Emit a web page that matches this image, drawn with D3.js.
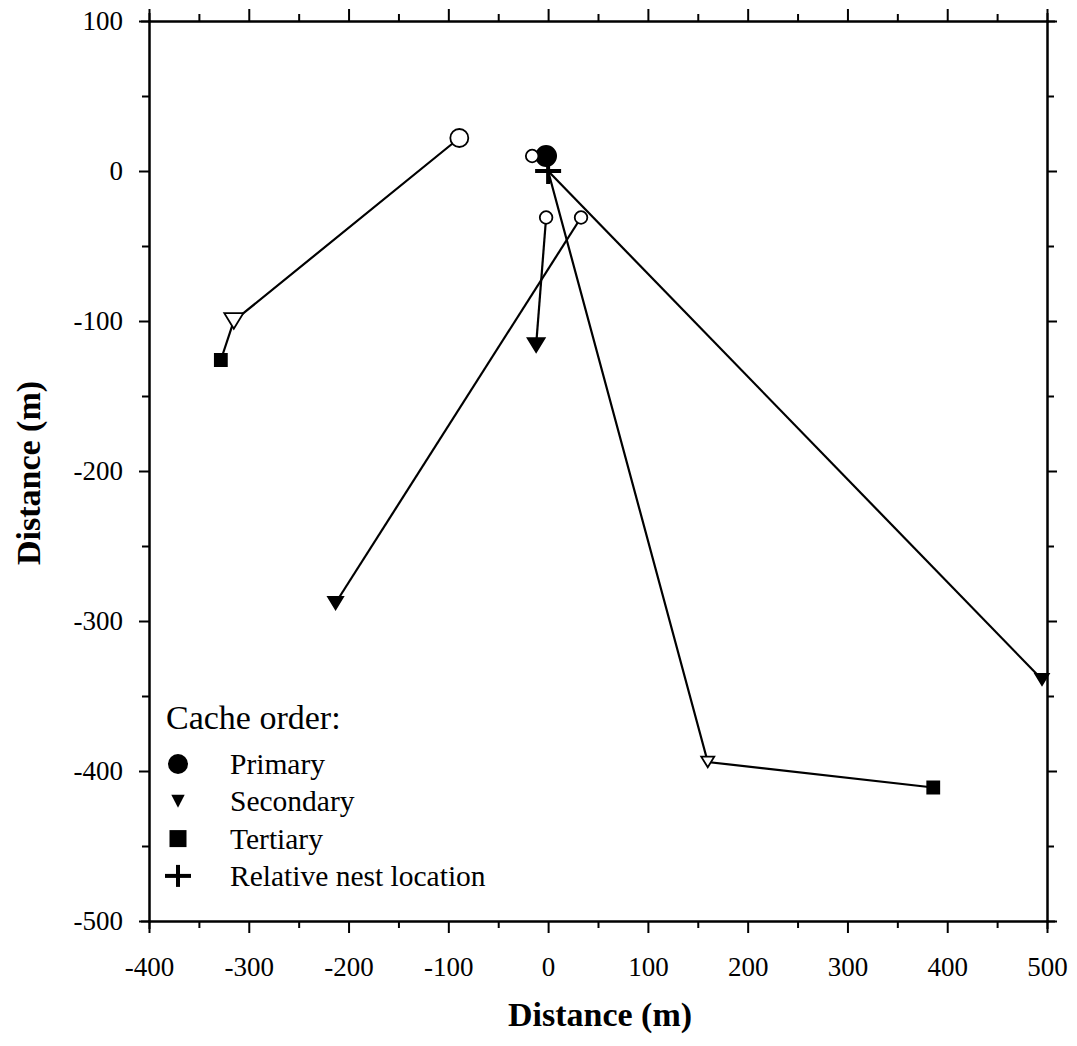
<!DOCTYPE html>
<html>
<head>
<meta charset="utf-8">
<script src="https://cdn.jsdelivr.net/npm/d3@7"></script>
<style>
  body { margin: 0; background: #fff; }
  svg { display: block; }
  text { font-family: "Liberation Serif", "Times New Roman", serif; fill: #000; }
</style>
</head>
<body>
<div id="chart"></div>
<script>
// Cache locations (m, relative to the nest)
const cacheX = [-89, -315, -328, -2, -16, -2, -12, 33, -213, 160, 386, 495];
const cacheY = [22, -100, -126, 10, 10, -31, -116, -31, -288, -394, -411, -339];
const cacheOrder = ['Primary', 'Secondary', 'Tertiary', 'Primary', 'Primary', 'Primary',
  'Secondary', 'Primary', 'Secondary', 'Secondary', 'Tertiary', 'Secondary'];
const cacheFilled = [false, false, true, true, false, false, true, false, true, false, true, true];
const nest = { x: 0, y: 0 };

// Caching sequences, by cache index ('nest' = start at the nest)
const routes = [
  [0, 1, 2],
  [5, 6],
  [7, 8],
  ['nest', 9, 10],
  ['nest', 11],
];

// Axis ticks
const xTicks = [-400, -300, -200, -100, 0, 100, 200, 300, 400, 500];
const yTicks = [-500, -400, -300, -200, -100, 0, 100];
const xMinor = [-350, -250, -150, -50, 50, 150, 250, 350, 450];
const yMinor = [-450, -350, -250, -150, -50, 50];

const legendItems = ['Primary', 'Secondary', 'Tertiary', 'Relative nest location'];

// Marker size (px) per cache, as drawn in the original
const markerSize = [9, 19, 12, 10, 6.3, 6.3, 17, 6.3, 15, 13, 12, 13.5];

// Set graph sizes
const margin = { top: 21, right: 30, bottom: 125, left: 149 };
const width = 898;
const height = 900;
const serif = '"Liberation Serif", "Times New Roman", serif';

const svg = d3.select('#chart')
  .append('svg')
  .attr('width', 1077)
  .attr('height', 1046);

const g = svg.append('g')
  .attr('transform', `translate(${margin.left},${margin.top})`);

const x = d3.scaleLinear().domain([-400, 500]).range([0, width]);
const y = d3.scaleLinear().domain([-500, 100]).range([height, 0]);

// plain hyphen for negatives, like the original
const fmt = (d) => String(d);

// symbol paths
function triangle(w) {
  const h = w * 0.82;
  return `M${-w / 2},${-h / 2}L${w / 2},${-h / 2}L0,${h / 2}Z`;
}
function square(s) {
  return `M${-s / 2},${-s / 2}h${s}v${s}h${-s}Z`;
}

function styleAxis(sel) {
  sel.attr('font-family', serif).attr('font-size', 27);
  sel.select('.domain').attr('stroke-width', 2);
  sel.selectAll('.tick line').attr('stroke-width', 2);
  sel.selectAll('.tick text')
    .style('font-size', '27px')
    .style('font-family', serif);
}

// axes, major ticks outward on every side
g.append('g')
  .attr('transform', `translate(0,${height})`)
  .call(d3.axisBottom(x).tickValues(xTicks).tickSize(12).tickSizeOuter(0).tickPadding(24).tickFormat(fmt))
  .call(styleAxis);
g.append('g')
  .call(d3.axisTop(x).tickValues(xTicks).tickSize(12).tickSizeOuter(0).tickFormat(''))
  .call(styleAxis);
g.append('g')
  .call(d3.axisLeft(y).tickValues(yTicks).tickSize(10).tickSizeOuter(0).tickPadding(16).tickFormat(fmt))
  .call(styleAxis);
g.append('g')
  .attr('transform', `translate(${width},0)`)
  .call(d3.axisRight(y).tickValues(yTicks).tickSize(10).tickSizeOuter(0).tickFormat(''))
  .call(styleAxis);

// minor ticks
g.append('g')
  .attr('transform', `translate(0,${height})`)
  .call(d3.axisBottom(x).tickValues(xMinor).tickSize(7).tickFormat(''))
  .call(styleAxis);
g.append('g')
  .call(d3.axisTop(x).tickValues(xMinor).tickSize(7).tickFormat(''))
  .call(styleAxis);
g.append('g')
  .call(d3.axisLeft(y).tickValues(yMinor).tickSize(7).tickFormat(''))
  .call(styleAxis);
g.append('g')
  .attr('transform', `translate(${width},0)`)
  .call(d3.axisRight(y).tickValues(yMinor).tickSize(7).tickFormat(''))
  .call(styleAxis);
g.selectAll('.domain').attr('stroke-linecap', 'square');

// axis titles
svg.append('text')
  .attr('x', margin.left + width / 2 + 2)
  .attr('y', 1026)
  .attr('text-anchor', 'middle')
  .style('font-size', '34px')
  .style('font-weight', 'bold')
  .text('Distance (m)');
svg.append('text')
  .attr('transform', `translate(40,${margin.top + height / 2 + 2}) rotate(-90)`)
  .attr('text-anchor', 'middle')
  .style('font-size', '34px')
  .style('font-weight', 'bold')
  .text('Distance (m)');

// route lines
const pt = (k) => (k === 'nest' ? [x(nest.x), y(nest.y)] : [x(cacheX[k]), y(cacheY[k])]);
g.selectAll('path.route')
  .data(routes)
  .join('path')
  .attr('class', 'route')
  .attr('fill', 'none')
  .attr('stroke', '#000')
  .attr('stroke-width', 2.2)
  .attr('d', (r) => d3.line()(r.map(pt)));

// cache markers
const caches = cacheX.map((cx, i) => ({
  x: cx, y: cacheY[i], order: cacheOrder[i], filled: cacheFilled[i], size: markerSize[i],
}));
function markerPath(d) {
  if (d.order === 'Primary') return d3.arc()({ innerRadius: 0, outerRadius: d.size, startAngle: 0, endAngle: 2 * Math.PI });
  if (d.order === 'Secondary') return triangle(d.size);
  return square(d.size);
}
g.selectAll('path.cache')
  .data(caches)
  .join('path')
  .attr('class', 'cache')
  .attr('transform', (d) => `translate(${x(d.x)},${y(d.y)})`)
  .attr('d', markerPath)
  .attr('fill', (d) => (d.filled ? '#000' : '#fff'))
  .attr('stroke', '#000')
  .attr('stroke-width', 1.8);

// nest
const cross = g.append('g')
  .attr('transform', `translate(${x(nest.x)},${y(nest.y)})`)
  .attr('stroke', '#000')
  .attr('stroke-width', 4);
cross.append('line').attr('x1', -13).attr('x2', 13);
cross.append('line').attr('y1', -13).attr('y2', 13);

// legend
const legend = svg.append('g');
legend.append('text')
  .attr('x', 166)
  .attr('y', 729)
  .style('font-size', '34px')
  .text('Cache order:');
const rowY = (i) => 774 + i * 37.3;
legend.selectAll('text.item')
  .data(legendItems)
  .join('text')
  .attr('class', 'item')
  .attr('x', 230)
  .attr('y', (d, i) => rowY(i))
  .style('font-size', '29.5px')
  .text((d) => d);
const legendSymbols = [
  d3.arc()({ innerRadius: 0, outerRadius: 10, startAngle: 0, endAngle: 2 * Math.PI }),
  `M-6.7,-6.5L6.7,-6.5L0,6.5Z`,
  square(17),
];
legend.selectAll('path.sym')
  .data(legendSymbols)
  .join('path')
  .attr('class', 'sym')
  .attr('transform', (d, i) => `translate(178,${rowY(i) - 10})`)
  .attr('d', (d) => d)
  .attr('fill', '#000');
const lc = legend.append('g')
  .attr('transform', `translate(178,${rowY(3) - 10})`)
  .attr('stroke', '#000')
  .attr('stroke-width', 4);
lc.append('line').attr('x1', -13).attr('x2', 13);
lc.append('line').attr('y1', -11).attr('y2', 11);
</script>
</body>
</html>
